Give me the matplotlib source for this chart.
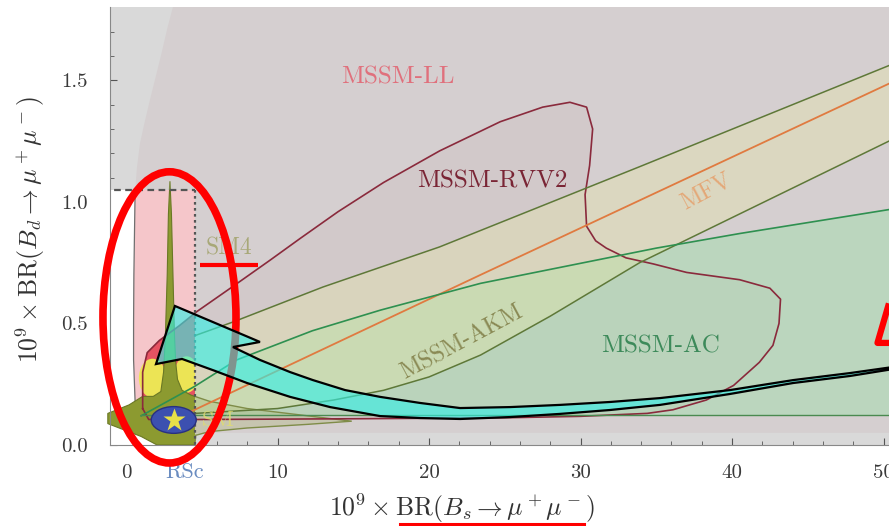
import matplotlib
matplotlib.use("Agg")
import matplotlib.pyplot as plt
from matplotlib.patches import Polygon, Rectangle, Ellipse

plt.rcParams["mathtext.fontset"] = "cm"
plt.rcParams["font.family"] = ["cmr10", "DejaVu Serif"]
plt.rcParams["axes.unicode_minus"] = False

# x = 1e9 BR(Bs->mumu), y = 1e9 BR(Bd->mumu)
ll_x = [3.3, 2.75, 2.3, 1.9, 1.58, 1.2, 0.92, 0.72, 0.6, 0.52, 0.5, 0.5, 0.6, 1.0, 1.8, 3.0, 51.5, 51.5]
ll_y = [1.85, 1.72, 1.6, 1.5, 1.42, 1.32, 1.24, 1.14, 1.04, 0.7, 0.5, 0.35, 0.18, 0.1, 0.06, 0.05, 0.05, 1.85]

rvv2_x = [1.1, 1.1, 1.4, 2.2, 3.5, 4.7, 7.0, 9.5, 11.5, 14.0, 17.0, 20.7, 24.7, 27.5,
          29.3, 30.4, 30.8, 30.6, 30.3, 30.4, 31.0, 31.7, 33.0, 34.8, 37.0, 40.5,
          42.5, 43.2, 43.1, 42.7, 41.8, 40.1, 38.3, 36.1, 34.4, 30.0, 25.0, 15.0, 5.0, 1.5]
rvv2_y = [0.15, 0.30, 0.38, 0.43, 0.49, 0.55, 0.65, 0.76, 0.85, 0.96, 1.08, 1.21, 1.33, 1.39,
          1.41, 1.39, 1.30, 1.15, 1.03, 0.90, 0.84, 0.81, 0.77, 0.745, 0.71, 0.68,
          0.645, 0.60, 0.50, 0.41, 0.34, 0.245, 0.185, 0.145, 0.13, 0.118, 0.112, 0.108, 0.105, 0.105]

mfv_up_x = [4.55, 7.06, 13.0, 20.7, 33.9, 51.5]
mfv_up_y = [0.45, 0.506, 0.65, 0.815, 1.145, 1.59]
mfv_lo_x = [4.55, 10.0, 13.7, 17.0, 20.0, 23.4, 28.0, 33.9, 51.5]
mfv_lo_y = [0.13, 0.15, 0.185, 0.225, 0.28, 0.37, 0.53, 0.75, 1.285]
mfv_mid_x = [2.5, 23.4, 51.5]
mfv_mid_y = [0.085, 0.70, 1.52]

ac_x = [1.0, 4.5, 7.3, 12.3, 16.8, 23.4, 30.2, 35.0, 40.5, 45.0, 51.5]
ac_y = [0.12, 0.24, 0.35, 0.47, 0.555, 0.665, 0.75, 0.81, 0.87, 0.915, 0.98]
ac_floor = 0.122

sm4_x = [2.9, 3.0, 3.1, 3.2, 3.28, 3.4, 3.7, 4.3, 5.5, 8.0, 12.0, 14.9, 12.0, 8.0, 5.5,
         4.6, 4.55, 2.05, 1.0, -1.2, -1.2, 0.2, 1.1, 1.8, 2.3, 2.48, 2.6, 2.72, 2.8]
sm4_y = [1.085, 0.95, 0.7, 0.45, 0.34, 0.27, 0.225, 0.205, 0.18, 0.15, 0.12, 0.098, 0.085,
         0.07, 0.055, 0.04, 0.0, 0.0, 0.035, 0.088, 0.13, 0.165, 0.2, 0.2, 0.22, 0.3,
         0.45, 0.7, 0.95]

blob_x = [1.75, 4.0]
blob_y = [0.275, 0.29]
blob_w = [1.8, 1.6]
blob_h = [0.16, 0.15]

sm_point = (3.15, 0.103)
box_x, box_y = 4.55, 1.05

x_ticks = [0, 10, 20, 30, 40, 50]
y_ticks = [0.0, 0.5, 1.0, 1.5]

# overlay annotations (in data units)
arrow_x = [3.23, 8.84, 7.06, 8.84, 10.83, 12.34, 14.46, 16.77, 19.41, 22.05, 25.35, 28.65,
           31.95, 35.25, 39.87, 44.03, 47.79, 51.09, 51.09, 47.79, 44.03, 39.87, 35.25,
           31.95, 28.65, 25.35, 22.05, 19.41, 16.77, 13.47, 10.83, 7.99, 5.87, 3.70, 1.98]
arrow_y = [0.572, 0.424, 0.403, 0.350, 0.300, 0.267, 0.226, 0.198, 0.173, 0.152, 0.156, 0.165,
           0.177, 0.193, 0.226, 0.267, 0.296, 0.325, 0.317, 0.284, 0.255, 0.210, 0.165,
           0.144, 0.128, 0.115, 0.107, 0.111, 0.119, 0.156, 0.198, 0.255, 0.305, 0.354, 0.333]

fig = plt.figure(figsize=(8.89, 5.26), dpi=100)
ax = fig.add_axes([110 / 889, 81 / 526, 779 / 889, 438 / 526])
ax.set_xlim(-1.056, 50.36)
ax.set_ylim(0, 1.802)
ax.set_facecolor("#d9d9d9")

box = Rectangle((-1.5, -0.1), box_x + 1.5, box_y + 0.1, transform=ax.transData)

# muted layer (everything outside the allowed box)
ax.add_patch(Polygon(list(zip(ll_x, ll_y)), closed=True, fc="#d5cfd0", ec="none", zorder=1))
ax.add_patch(Polygon(list(zip(rvv2_x, rvv2_y)), closed=True, fc=(0.48, 0.12, 0.19, 0.03), ec="none", zorder=1.1))
ax.fill(ac_x + ac_x[::-1], ac_y + [ac_floor] * len(ac_x), fc=(0.64, 0.87, 0.68, 0.5), ec="none", zorder=1.2)
ax.fill(mfv_up_x + mfv_lo_x[::-1], mfv_up_y + mfv_lo_y[::-1], fc=(0.9, 0.9, 0.66, 0.38), ec="none", zorder=1.3)
ax.add_patch(Polygon(list(zip(sm4_x, sm4_y)), closed=True, fc=(0.62, 0.66, 0.32, 0.25),
                     ec="#7f8c48", lw=1.0, zorder=1.4))

# the white box, with vivid colours inside it
ax.add_patch(Rectangle((-1.5, 0), box_x + 1.5, box_y, fc="white", ec="none", zorder=2))
vivid = [
    Polygon(list(zip(ll_x, ll_y)), closed=True, fc="#f5c6ca", ec="none", zorder=2.1),
    Polygon(list(zip(rvv2_x, rvv2_y)), closed=True, fc="#e65262", ec="none", zorder=2.2),
]
for bx, by, bw, bh in zip(blob_x, blob_y, blob_w, blob_h):
    vivid.append(Ellipse((bx, by), bw, bh, fc="#ece455", ec="none", zorder=2.3))
vivid.append(Polygon(list(zip(sm4_x, sm4_y)), closed=True, fc="#8c9a30", ec="#6a7825", lw=0.8, zorder=2.4))
for p in vivid:
    ax.add_patch(p)
    p.set_clip_path(box)
edge, = ax.plot(ll_x[8:14], ll_y[8:14], color="#707070", lw=0.9, zorder=2.15)
edge.set_clip_path(box)

# contour lines
ax.plot(rvv2_x + rvv2_x[:1], rvv2_y + rvv2_y[:1], color="#8a2a3c", lw=1.2, zorder=3)
ax.plot(mfv_up_x, mfv_up_y, color="#5e7838", lw=1.1, zorder=3)
ax.plot(mfv_lo_x, mfv_lo_y, color="#5e7838", lw=1.1, zorder=3)
ax.plot(mfv_mid_x, mfv_mid_y, color="#e07a40", lw=1.3, zorder=3)
ax.plot(ac_x, ac_y, color="#2e9050", lw=1.2, zorder=3)
ax.plot([ac_x[0], ac_x[-1]], [ac_floor, ac_floor], color="#4a8a50", lw=1.0, zorder=3)

ax.plot([-1.5, box_x], [box_y, box_y], color="#555555", lw=1.6, ls=(0, (3, 2)), zorder=3.5)
ax.plot([box_x, box_x], [box_y, 0], color="#555555", lw=1.6, ls=(0, (1.2, 1.5)), zorder=3.5)

ax.add_patch(Ellipse(sm_point, 2.97, 0.11, fc="#3c50b0", ec="#283080", lw=1, zorder=4))
ax.plot(*sm_point, marker="*", ms=17, color="#e8e048", mec="none", zorder=4.1)

# region labels
ax.text(17.95, 1.514, "MSSM-LL", color="#e0707c", fontsize=18, ha="center", va="center", zorder=5)
ax.text(24.2, 1.086, "MSSM-RVV2", color="#7a2535", fontsize=18, ha="center", va="center", zorder=5)
ax.text(38.3, 1.045, "MFV", color="#e4a878", fontsize=17, rotation=28, ha="center", va="center", zorder=5)
ax.text(22.2, 0.42, "MSSM-AKM", color="#8a8a55", fontsize=17, rotation=28, ha="center", va="center", zorder=5)
ax.text(35.3, 0.407, "MSSM-AC", color="#3d8a5a", fontsize=18, ha="center", va="center", zorder=5)
ax.text(6.8, 0.81, "SM4", color="#a8a878", fontsize=17, ha="center", va="center", zorder=5)
ax.text(6.1, 0.103, "SM", color="#e0dc70", fontsize=16, alpha=0.8, ha="center", va="center", zorder=5)
ax.text(3.9, -0.111, "RSc", color="#6a8cc0", fontsize=16, ha="center", va="center", clip_on=False)

ax.set_xticks(x_ticks, [str(t) for t in x_ticks])
ax.set_yticks(y_ticks, ["%.1f" % t for t in y_ticks])
ax.set_xticks(list(range(0, 51, 2)), minor=True)
ax.set_yticks([i / 10 for i in range(0, 18)], minor=True)
ax.tick_params(which="both", direction="in", color="#555555", labelcolor="#3a3a3a", labelsize=15)
ax.tick_params(which="major", length=5)
ax.tick_params(which="minor", length=3)
ax.tick_params(axis="x", pad=14)
ax.tick_params(axis="y", pad=16)
for s in ["top", "right"]:
    ax.spines[s].set_visible(False)
for s in ["left", "bottom"]:
    ax.spines[s].set_color("#888888")
    ax.spines[s].set_zorder(6)

fig.text(462 / 889, 1 - 508 / 526, r"$10^9 \times \mathrm{BR}(B_s \to \mu^+\mu^-)$",
         fontsize=18.5, color="#333333", ha="center", va="center")
fig.text(30 / 889, 1 - 230 / 526, r"$10^9 \times \mathrm{BR}(B_d \to \mu^+\mu^-)$",
         fontsize=18.5, color="#333333", ha="center", va="center", rotation=90)

# hand-drawn highlights on top
ax.add_patch(Ellipse((2.87, 0.525), 8.78, 1.198, fc="none", ec="#ff0000", lw=5.5, zorder=8, clip_on=False))
ax.plot([4.88, 8.71], [0.741, 0.741], color="#ff0000", lw=3, zorder=8, solid_capstyle="butt")
ax.add_patch(Polygon(list(zip(arrow_x, arrow_y)), closed=True, fc=(0.2, 0.94, 0.91, 0.62),
                     ec="black", lw=1.6, zorder=9, clip_on=False))
ax.plot([50.3, 49.6, 51.0], [0.57, 0.42, 0.42], color="#ff0000", lw=4.5, zorder=9, clip_on=False)
ax.plot([18.1, 30.2], [-0.325, -0.325], color="#ff0000", lw=2.2, zorder=9, clip_on=False)

fig.savefig("out.png", dpi=100)
